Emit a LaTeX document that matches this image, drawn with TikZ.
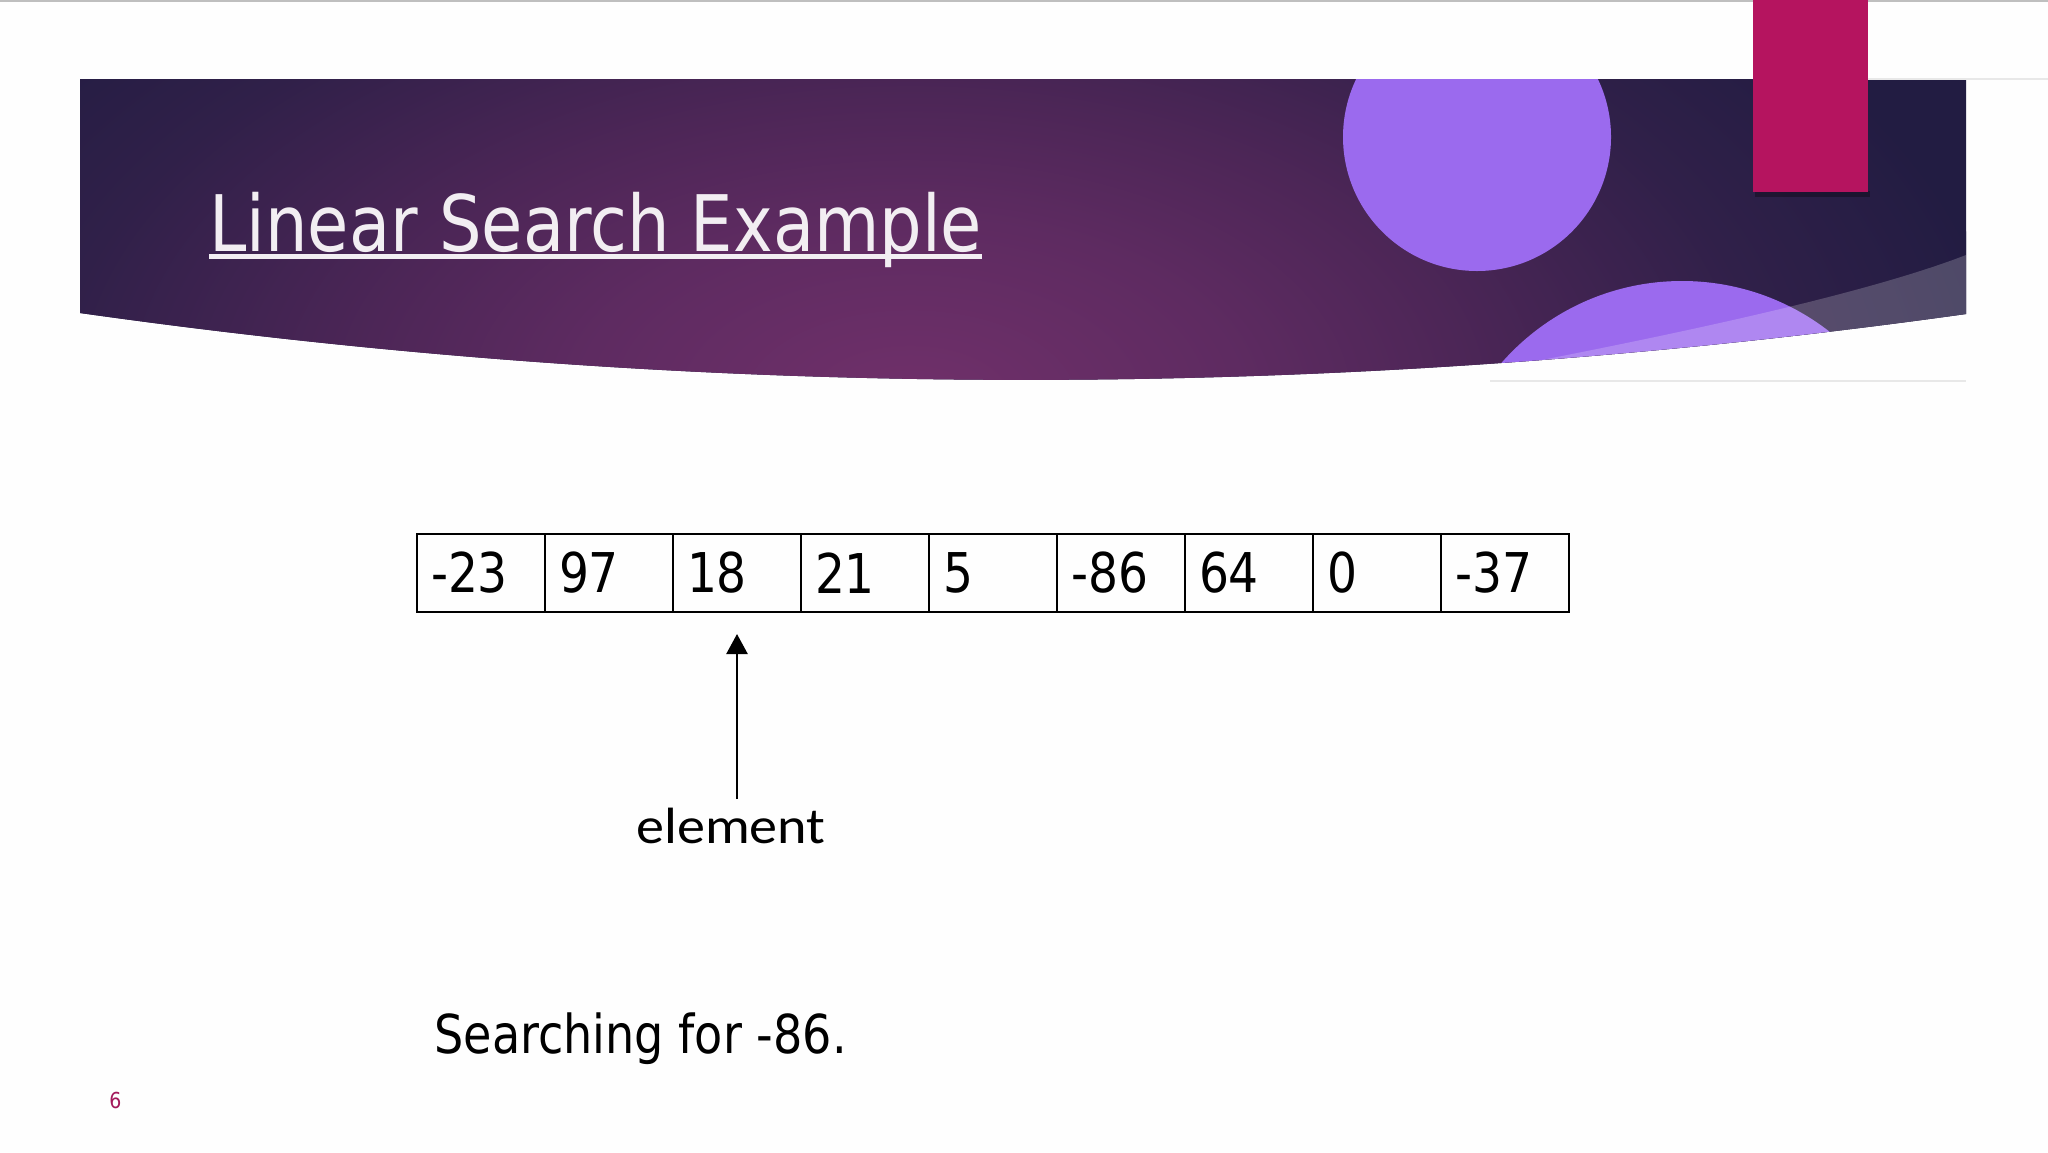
\documentclass[tikz,border=0pt]{standalone}
\usepackage{fontspec}
\setmainfont{DejaVu Sans}[FakeStretch=0.86]
\newfontfamily\elemfont{Carlito}[FakeStretch=1.1]
\usetikzlibrary{arrows.meta}
\definecolor{bC0}{HTML}{70306A}
\definecolor{bC1}{HTML}{5E2B61}
\definecolor{bC2}{HTML}{4D2657}
\definecolor{bC3}{HTML}{302049}
\definecolor{bC4}{HTML}{221C42}
\definecolor{circcol}{HTML}{9B6AEE}
\definecolor{magcol}{HTML}{B5145F}
\definecolor{titlecol}{HTML}{F2EEF2}
\definecolor{pagecol}{HTML}{A3195B}
\definecolor{pagebg}{HTML}{FEFEFE}
\pgfdeclareradialshading{bandshade}{\pgfpoint{0bp}{0bp}}{color(0bp)=(bC0); color(7.5bp)=(bC1); color(12.5bp)=(bC2); color(19.5bp)=(bC3); color(25bp)=(bC4); color(50bp)=(bC4)}
\begin{document}
\begin{tikzpicture}[x=0.5pt,y=-0.5pt,
  circ/.style={fill=circcol},
  faint/.style={draw=black!9,line width=0.6pt},
  titletext/.style={text=titlecol,inner sep=0pt,font=\fontsize{39pt}{42pt}\selectfont},
  titleline/.style={draw=titlecol,line width=2.5pt},
  cell/.style={draw=black,line width=1pt,minimum width=64pt,minimum height=39pt,
    inner xsep=7pt,inner ysep=0pt,text width=50pt,align=left,
    font=\fontsize{27.4pt}{30pt}\selectfont},
  bodytext/.style={inner sep=0pt,font=\fontsize{26.8pt}{30pt}\selectfont},
  elemtext/.style={inner sep=0pt,font=\elemfont\fontsize{25.5pt}{28pt}\selectfont},
  ptr/.style={draw=black,line width=1.25pt,-{Triangle[length=10pt,width=10.5pt]}},
  pagenum/.style={inner sep=0pt,text=pagecol,font=\fontsize{11pt}{13pt}\selectfont}]
\fill[pagebg] (0,0) rectangle (2048,1152);
\useasboundingbox (0,0) rectangle (2048,1152);
\draw[draw=black!25,line width=1pt] (0,1) -- (2048,1);
% header band
\begin{scope}
\clip (80,79) -- (1966,79) -- (1966,314) .. controls (1337,402) and (709,402) .. (80,313) -- cycle;
\fill[bC4] (0,0) rectangle (2048,500);
\shade[shading=bandshade] (910,400) ellipse [x radius=550pt, y radius=300pt];
\fill[circ] (1477,137) circle [radius=67pt];
\fill[circ] (1682,521) circle [radius=120pt];
\fill[white,opacity=0.2] (1400,420) -- (1480,372) .. controls (1620,345) and (1850,300) .. (1966,255) -- (2000,255) -- (2000,420) -- cycle;
\end{scope}
\draw[faint] (1868,79) -- (2048,79);
\draw[faint] (1490,381) -- (1966,381);
\fill[black,opacity=0.3] (1755,191) rectangle (1870,197);
\fill[magcol] (1753,0) rectangle (1868,192);
% title
\node[titletext,anchor=base west] (title) at (209,251) {Linear Search Example};
\draw[titleline] ([yshift=-2.5pt]title.base west) -- ([yshift=-2.5pt]title.base east);
% array
\foreach \v [count=\i] in {-23,97,18,21,5,-86,64,0,-37}
  \node[cell] (c\i) at ({481+128*(\i-1)},573) {\v};
% pointer
\node[elemtext,anchor=base] (elem) at (731,843) {element};
\draw[ptr,shorten <=4pt,shorten >=10.5pt] (elem.north -| c3.south) -- (c3.south);
% caption
\node[bodytext,anchor=base west] (search) at (434,1053) {Searching for -86.};
\node[pagenum,anchor=base west] (pg) at (109,1108) {6};
\end{tikzpicture}
\end{document}
